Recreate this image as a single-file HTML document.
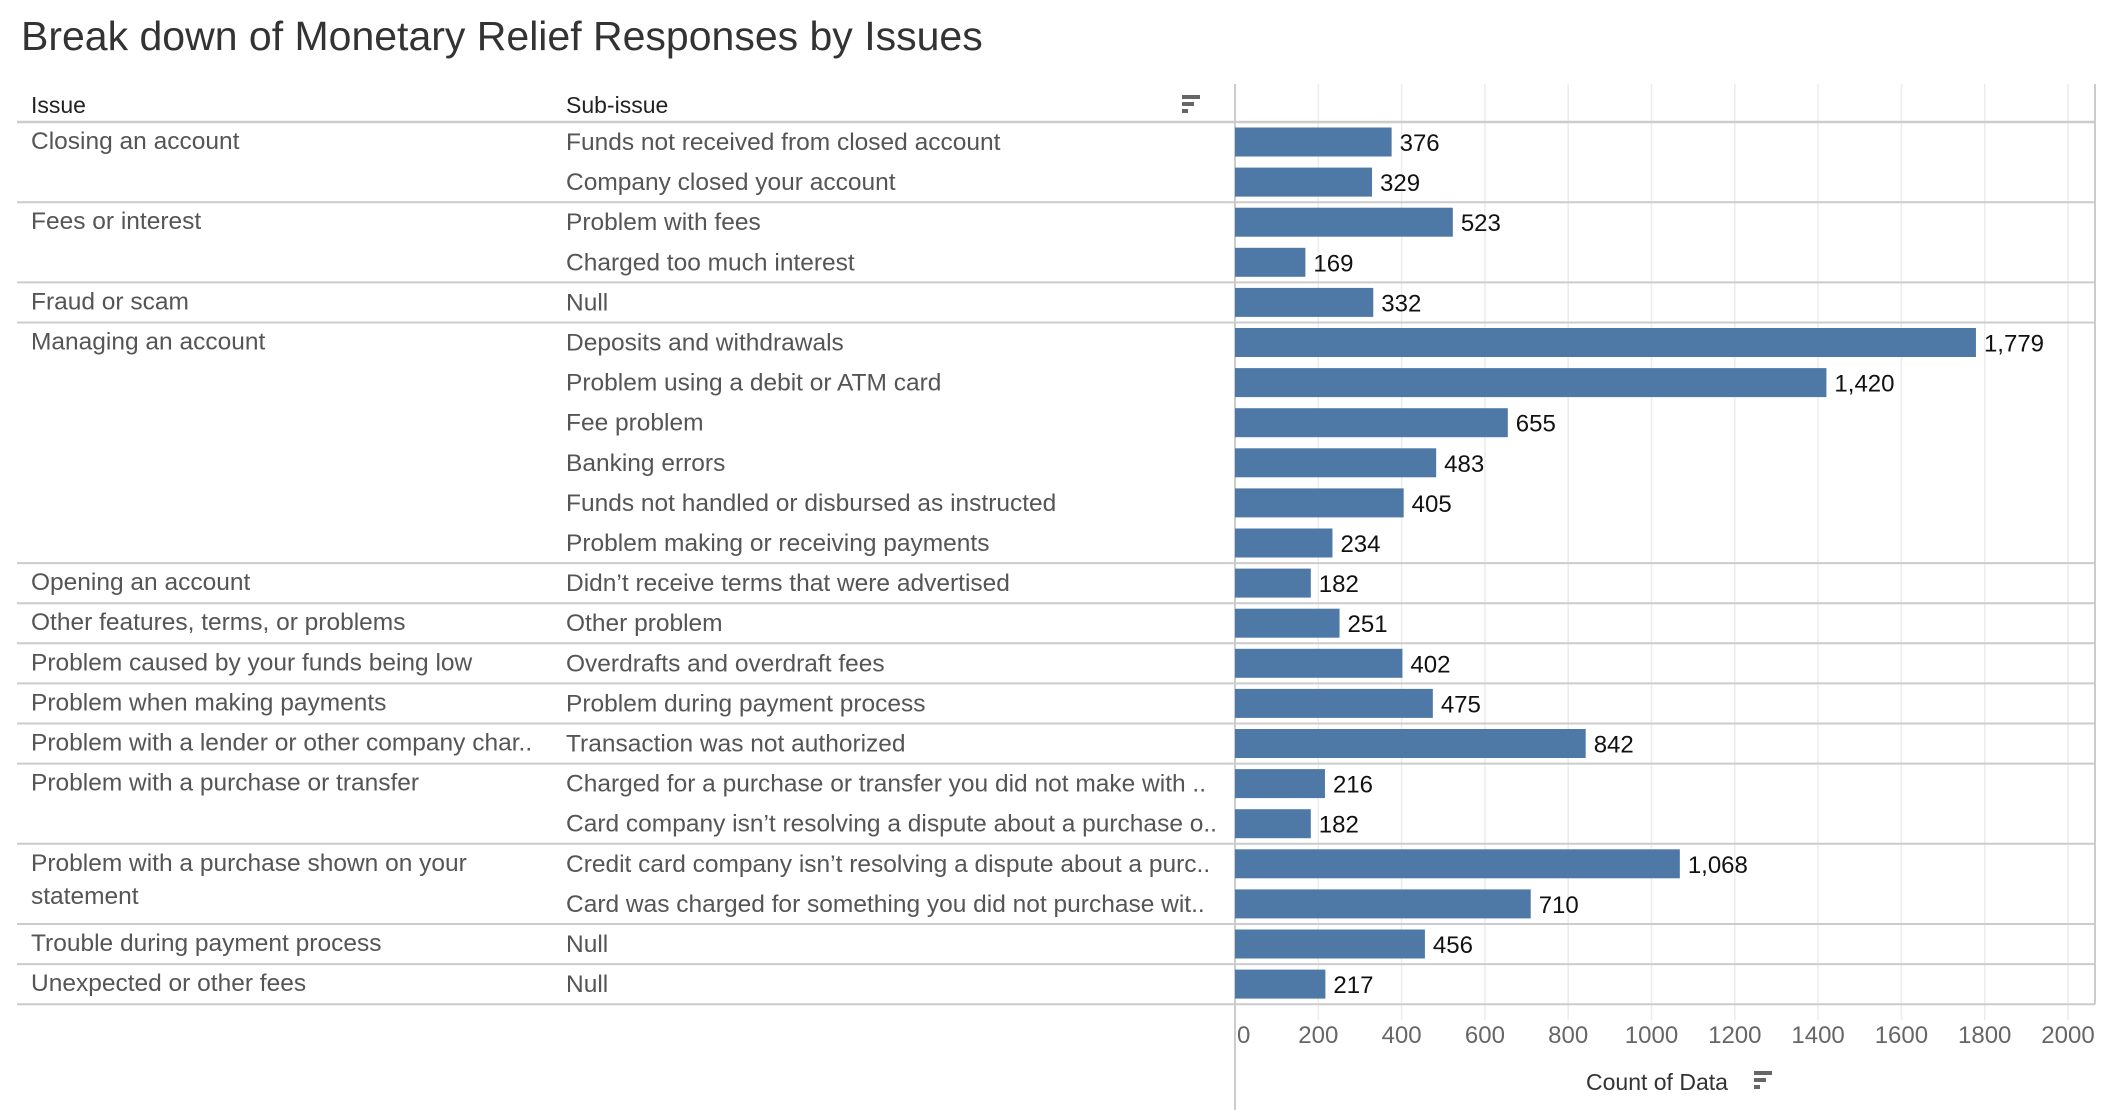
<!DOCTYPE html>
<html><head><meta charset="utf-8"><style>
body{margin:0;background:#fff;width:2104px;height:1110px;overflow:hidden;font-family:"Liberation Sans",sans-serif}
</style></head><body>
<svg id="chart" width="2104" height="1110" style="position:absolute;left:0;top:0">
<text x="21" y="50" font-size="41" fill="#333">Break down of Monetary Relief Responses by Issues</text>
<text x="31" y="113" font-size="23" fill="#222">Issue</text>
<text x="566" y="113" font-size="23" fill="#222">Sub-issue</text>
<g fill="#666"><rect x="1182" y="95" width="18" height="4"/><rect x="1182" y="102" width="12" height="4"/><rect x="1182" y="109" width="6" height="4"/></g>
<g id="grid"></g><g id="rows"></g><g id="bars"></g>
<text x="1586" y="1090" font-size="23" fill="#333">Count of Data</text>
<g fill="#666"><rect x="1754" y="1071" width="18" height="4"/><rect x="1754" y="1078" width="12" height="4"/><rect x="1754" y="1085" width="6" height="4"/></g>
</svg>
<script>
const issues=["Closing an account","","Fees or interest","","Fraud or scam","Managing an account","","","","","","Opening an account","Other features, terms, or problems","Problem caused by your funds being low","Problem when making payments","Problem with a lender or other company char..","Problem with a purchase or transfer","","Problem with a purchase shown on your|statement","","Trouble during payment process","Unexpected or other fees"];
const subIssues=["Funds not received from closed account","Company closed your account","Problem with fees","Charged too much interest","Null","Deposits and withdrawals","Problem using a debit or ATM card","Fee problem","Banking errors","Funds not handled or disbursed as instructed","Problem making or receiving payments","Didn\u2019t receive terms that were advertised","Other problem","Overdrafts and overdraft fees","Problem during payment process","Transaction was not authorized","Charged for a purchase or transfer you did not make with ..","Card company isn\u2019t resolving a dispute about a purchase o..","Credit card company isn\u2019t resolving a dispute about a purc..","Card was charged for something you did not purchase wit..","Null","Null"];
const counts=[376,329,523,169,332,1779,1420,655,483,405,234,182,251,402,475,842,216,182,1068,710,456,217];
const ticks=[0,200,400,600,800,1000,1200,1400,1600,1800,2000];
const NS="http://www.w3.org/2000/svg";
const x0=1235,x1=2068,top0=122,rowH=40.1;
const xs=v=>x0+(x1-x0)*v/2000;
const ys=i=>top0+i*rowH;
function mk(tag,attrs,parent,text){const e=document.createElementNS(NS,tag);for(const k in attrs)e.setAttribute(k,attrs[k]);if(text!==undefined)e.textContent=text;parent.appendChild(e);return e;}
const grid=document.getElementById('grid'),rows=document.getElementById('rows'),bars=document.getElementById('bars');
const bottom=ys(counts.length);
ticks.forEach(t=>{
  const l=mk('line',{x1:xs(t),x2:xs(t),y1:84,y2:1020,stroke:'#ececec','stroke-width':1.5},grid);
  
  
  const tx=mk('text',{x:t===0?xs(t)+2:xs(t),y:1043,'font-size':24,fill:'#666','text-anchor':t===0?'start':'middle'},grid,String(t));
  
  
});
mk('line',{x1:x0,x2:x0,y1:84,y2:1110,stroke:'#ccc','stroke-width':2},grid);
mk('line',{x1:2095,x2:2095,y1:84,y2:bottom,stroke:'#ccc','stroke-width':2},grid);
mk('line',{x1:17,x2:2095,y1:top0,y2:top0,stroke:'#ccc','stroke-width':2.5},grid);
counts.forEach((c,i)=>{
  const y=ys(i);
  if(i>0&&issues[i]!==""){const s=mk('line',{x1:17,x2:2095,y1:y,y2:y,stroke:'#ccc','stroke-width':2},rows);
    
    }
  if(issues[i]!==""){issues[i].split('|').forEach((ln,k)=>{const t=mk('text',{x:31,y:y+27+k*33,'font-size':24.5,fill:'#555'},rows,ln);
    
    });}
  const s=mk('text',{x:566,y:y+28,'font-size':24.5,fill:'#555'},rows,subIssues[i]);
  
  
  const b=mk('rect',{x:x0,y:y+5.5,width:xs(c)-x0,height:29,fill:'#4e79a7'},bars);
  
  
  const v=mk('text',{x:xs(c)+8,y:y+29,'font-size':24,fill:'#111'},bars,c.toLocaleString('en-US'));
  
  
});
mk('line',{x1:17,x2:2095,y1:bottom,y2:bottom,stroke:'#ccc','stroke-width':2},rows);
</script>
</body></html>
